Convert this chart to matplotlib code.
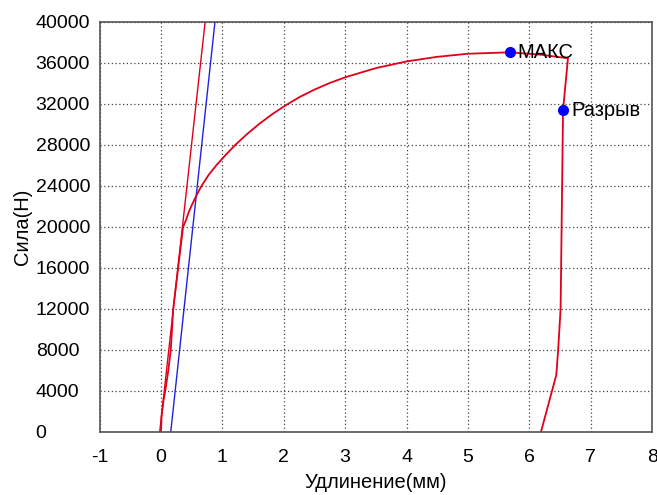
import matplotlib
matplotlib.use("Agg")
import matplotlib.pyplot as plt

plt.rcParams['font.family'] = ['Liberation Sans', 'DejaVu Sans']
plt.rcParams['axes.unicode_minus'] = False

# main test curve: elongation (mm) vs force (N)
curve_x = [0.0, 0.01, 0.04, 0.07, 0.12, 0.16, 0.2, 0.28, 0.36, 0.41, 0.45, 0.5, 0.58, 0.66, 0.78, 0.9,
           1.05, 1.21, 1.4, 1.6, 1.8, 2.0, 2.25, 2.5, 2.75, 3.0, 3.5, 4.0, 4.5, 5.0, 5.68, 6.2, 6.63,
           6.55, 6.51, 6.47, 6.44, 6.19]
curve_y = [0, 1500, 3000, 4000, 6000, 8000, 12000, 16000, 20000, 20700, 21400, 22100, 23100, 24000, 25100, 26000,
           27000, 28000, 29050, 30050, 30950, 31750, 32650, 33400, 34050, 34600, 35500, 36150, 36600, 36900, 37040, 36800, 36460,
           31400, 12000, 8000, 5560, 0]

# straight lines (modulus line and offset line)
red_line_x = [-0.02, 0.72]
red_line_y = [0, 40000]
blue_line_x = [0.16, 0.88]
blue_line_y = [0, 40000]

# marked points
pts_x = [5.68, 6.55]
pts_y = [37040, 31400]
pts_lbl = ['МАКС', 'Разрыв']

fig = plt.figure(figsize=(6.57, 4.95), dpi=100)
ax = fig.add_axes([0.1515, 0.1273, 0.8410, 0.8283])

ax.plot(red_line_x, red_line_y, color='#e0001a', lw=1.0)
ax.plot(blue_line_x, blue_line_y, color='#2020e0', lw=1.0)
ax.plot(curve_x, curve_y, color='#e0001a', lw=1.3)
ax.plot(pts_x, pts_y, 'o', color='#0000ff', ms=7, zorder=5)
for px, py, t in zip(pts_x, pts_y, pts_lbl):
    ax.text(px + 0.13, py, t, fontsize=14.5, va='center', ha='left')

ax.set_xlim(-1, 8)
ax.set_ylim(0, 40000)
ax.set_xticks(range(-1, 9))
ax.set_yticks(range(0, 40001, 4000))
ax.tick_params(length=0, labelsize=14)
ax.tick_params(axis='x', pad=12)
ax.tick_params(axis='y', pad=46)
for lb in ax.get_yticklabels():
    lb.set_horizontalalignment('left')
ax.grid(True, color='#444444', linestyle=(0, (1, 2)), lw=0.9)
for s in ax.spines.values():
    s.set_color('#555555')
    s.set_linewidth(1.2)

ax.set_xlabel('Удлинение(мм)', fontsize=14.5, va='center')
ax.set_ylabel('Сила(Н)', fontsize=14.5, va='center')
ax.xaxis.set_label_coords(0.5, -0.124)
ax.yaxis.set_label_coords(-0.14, 0.5)

fig.savefig('out.png', dpi=100)
